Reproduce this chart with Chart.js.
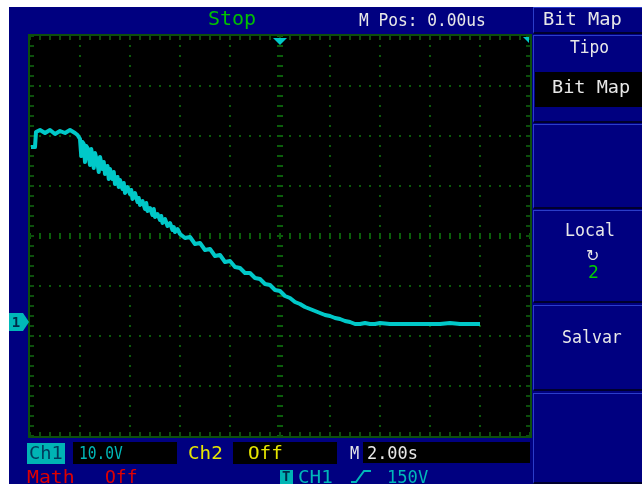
<!DOCTYPE html>
<html>
<head>
<meta charset="utf-8">
<script src="https://cdn.jsdelivr.net/npm/chart.js@4/dist/chart.umd.min.js"></script>
<style>
  html, body { margin: 0; padding: 0; width: 642px; height: 484px; overflow: hidden; background: #ffffff; }
  #scope { position: absolute; left: 9px; top: 7px; width: 633px; height: 477px; background: #000080; }
  #plot { position: absolute; left: 0; top: 0; z-index: 3; }
  .t { position: absolute; font-family: "DejaVu Sans Mono", monospace; font-size: 18px; line-height: 18px;
       white-space: pre; transform-origin: 0 0; z-index: 4; }
  .box { position: absolute; z-index: 2; }
  .pbox { position: absolute; left: 533px; width: 109px; box-sizing: border-box; background: #000080;
          border-top: 1px solid #2b3dc9; border-left: 1px solid #2b3dc9; border-bottom: 2px solid #00002e; z-index: 2; }
  .blk { position: absolute; background: #000000; z-index: 2; }
</style>
</head>
<body>
<div id="scope"></div>

<!-- right-hand menu -->
<div class="pbox" style="top:7px;height:27px;"></div>
<div class="pbox" style="top:35px;height:88px;"></div>
<div class="pbox" style="top:124px;height:85px;"></div>
<div class="pbox" style="top:210px;height:93px;"></div>
<div class="pbox" style="top:305px;height:86px;"></div>
<div class="pbox" style="top:393px;height:91px;"></div>
<div class="blk" style="left:535px;top:72px;width:107px;height:35px;"></div>

<!-- status bar boxes -->
<div class="box" style="left:27px;top:443px;width:38px;height:21px;background:#00b4b4;"></div>
<div class="blk" style="left:73px;top:442px;width:104px;height:22px;"></div>
<div class="blk" style="left:233px;top:442px;width:104px;height:22px;"></div>
<div class="blk" style="left:363px;top:442px;width:167px;height:21px;"></div>
<div class="box" style="left:280px;top:470px;width:13px;height:14px;background:#00b4b4;"></div>

<!-- header texts -->
<div class="t" style="left:208px;top:8px;font-size:20px;line-height:20px;color:#00c000;">Stop</div>
<div class="t" style="left:359px;top:11px;color:#e8e8e8;transform:scaleX(0.9);">M Pos: 0.00us</div>
<div class="t" style="left:543px;top:10px;color:#e8e8e8;transform:scaleX(1.04);">Bit Map</div>

<!-- menu texts -->
<div class="t" style="left:570px;top:38px;color:#e8e8e8;transform:scaleX(0.9);">Tipo</div>
<div class="t" style="left:552px;top:78px;color:#e8e8e8;transform:scaleX(1.03);">Bit Map</div>
<div class="t" style="left:565px;top:221px;color:#e8e8e8;transform:scaleX(0.92);">Local</div>
<div class="t" style="left:586px;top:247px;font-family:'DejaVu Sans';font-size:16px;line-height:18px;color:#e8e8e8;">↻</div>
<div class="t" style="left:588px;top:263px;color:#00d000;">2</div>
<div class="t" style="left:562px;top:328px;color:#e8e8e8;transform:scaleX(0.92);">Salvar</div>

<!-- status texts -->
<div class="t" style="left:29px;top:444px;color:#003a5c;transform:scaleX(1.04);">Ch1</div>
<div class="t" style="left:79px;top:444px;color:#00b8b8;transform:scaleX(0.81);">10.0V</div>
<div class="t" style="left:188px;top:444px;color:#e6e600;transform:scaleX(1.07);">Ch2</div>
<div class="t" style="left:248px;top:444px;color:#e6e600;transform:scaleX(1.07);">Off</div>
<div class="t" style="left:350px;top:444px;color:#e8e8e8;transform:scaleX(0.85);">M</div>
<div class="t" style="left:367px;top:444px;color:#e8e8e8;transform:scaleX(0.94);">2.00s</div>
<div class="t" style="left:27px;top:468px;color:#e00000;transform:scaleX(1.1);">Math</div>
<div class="t" style="left:105px;top:468px;color:#e00000;">Off</div>
<div class="t" style="left:282px;top:469px;font-size:14px;line-height:14px;font-weight:bold;color:#002a4a;">T</div>
<div class="t" style="left:298px;top:468px;color:#00b8b8;transform:scaleX(1.07);">CH1</div>
<svg style="position:absolute;left:350px;top:469px;z-index:4;" width="22" height="15">
  <polyline points="1,13 6,13 14,2 21,2" fill="none" stroke="#00b8b8" stroke-width="2"/>
</svg>
<div class="t" style="left:387px;top:468px;color:#00b8b8;transform:scaleX(0.95);">150V</div>

<canvas id="plot" width="642" height="484"></canvas>

<script>
// Channel 1 capture: time in seconds (trigger at 0), amplitude in volts
const times = [
  -9.96, -9.80, -9.76, -9.60, -9.40, -9.20, -9.00, -8.80, -8.60, -8.40, -8.20, -8.10,
  -8.00, -7.95, -7.90, -7.85, -7.80, -7.75, -7.70, -7.60, -7.55, -7.50, -7.45, -7.40,
  -7.30, -7.25, -7.20, -7.10, -7.05, -7.00, -6.90, -6.85, -6.80, -6.70, -6.65, -6.60,
  -6.50, -6.45, -6.40, -6.30, -6.25, -6.20, -6.10, -6.00, -5.95, -5.90, -5.80, -5.70,
  -5.65, -5.60, -5.50, -5.40, -5.35, -5.30, -5.20, -5.10, -5.05, -5.00, -4.90, -4.80,
  -4.75, -4.70, -4.60, -4.50, -4.40, -4.30, -4.25, -4.20, -4.10, -4.00,
  -3.80, -3.60, -3.40, -3.20, -3.00, -2.80, -2.60, -2.40, -2.20, -2.00,
  -1.80, -1.60, -1.40, -1.20, -1.00, -0.80, -0.60, -0.40, -0.20, 0.00,
  0.20, 0.40, 0.60, 0.80, 1.00, 1.20, 1.40, 1.60, 1.80, 2.00,
  2.20, 2.40, 2.60, 2.80, 3.00, 3.20, 3.40, 3.60, 3.80, 4.00,
  4.40, 4.80, 5.20, 5.60, 6.00, 6.40, 6.80, 7.20, 7.60, 8.00
];
const ch1Volts = [
  35.0, 35.0, 38.0, 38.4, 37.8, 38.4, 37.6, 38.2, 37.8, 38.4, 37.8, 37.4,
  36.6, 33.2, 36.0, 35.6, 32.0, 35.2, 34.8, 31.4, 34.6, 33.0, 30.8, 33.8,
  31.8, 30.0, 33.0, 30.6, 32.0, 29.6, 31.2, 28.6, 30.6, 28.6, 30.0, 27.6,
  29.0, 27.0, 28.4, 26.6, 27.8, 25.8, 27.0, 25.6, 26.4, 24.6, 25.8, 24.0,
  24.8, 23.4, 24.2, 22.6, 23.8, 22.2, 22.8, 21.4, 22.6, 21.0, 21.6, 20.4,
  21.2, 19.8, 20.6, 19.2, 19.8, 18.4, 19.0, 18.0, 18.6, 17.6,
  16.8, 17.0, 15.6, 15.8, 14.4, 14.6, 13.2, 13.4, 12.0, 12.2,
  11.0, 10.8, 9.8, 9.8, 8.8, 8.6, 7.6, 7.4, 6.4, 6.2,
  5.2, 4.8, 4.0, 3.6, 3.0, 2.6, 2.2, 1.8, 1.4, 1.2,
  0.8, 0.6, 0.2, 0.0, -0.4, -0.4, -0.2, -0.4, -0.4, -0.2,
  -0.4, -0.4, -0.4, -0.4, -0.4, -0.4, -0.2, -0.4, -0.4, -0.4
];

// Graticule: 10 x 8 divisions, 5 minor marks per division
const H_DIVS = 10, V_DIVS = 8, MINOR = 5;
const SEC_PER_DIV = 2.0;      // M 2.00s
const VOLT_PER_DIV = 10.0;    // Ch1 10.0V
const CH1_OFFSET_DIVS = 2.28; // ground marker height above the bottom edge, in divisions
const X_MIN = -H_DIVS / 2 * SEC_PER_DIV, X_MAX = H_DIVS / 2 * SEC_PER_DIV;
const Y_MIN = -CH1_OFFSET_DIVS * VOLT_PER_DIV, Y_MAX = Y_MIN + V_DIVS * VOLT_PER_DIV;

const GRID_DOT = '#0a5e0a', GRID_EDGE = '#0c4f0c', TRACE = '#00c8c8';

const graticule = {
  id: 'graticule',
  beforeDatasetsDraw(chart) {
    const { ctx, chartArea: a, scales: { x, y } } = chart;
    ctx.save();
    ctx.fillStyle = '#000000';
    ctx.fillRect(a.left, a.top, a.right - a.left, a.bottom - a.top);

    const xs = [], ys = [], xm = [], ym = [];
    for (let i = 0; i <= H_DIVS; i++) xs.push(Math.round(x.getPixelForValue(X_MIN + i * SEC_PER_DIV)));
    for (let j = 0; j <= V_DIVS; j++) ys.push(Math.round(y.getPixelForValue(Y_MIN + j * VOLT_PER_DIV)));
    for (let i = 0; i <= H_DIVS * MINOR; i++) xm.push(Math.round(x.getPixelForValue(X_MIN + i * SEC_PER_DIV / MINOR)));
    for (let j = 0; j <= V_DIVS * MINOR; j++) ym.push(Math.round(y.getPixelForValue(Y_MIN + j * VOLT_PER_DIV / MINOR)));
    const cx = xs[H_DIVS / 2];
    const cy = ys[V_DIVS / 2];

    // dotted division lines
    ctx.fillStyle = GRID_DOT;
    xs.slice(1, -1).forEach(px => {
      if (px === cx) return;
      ym.forEach(py => ctx.fillRect(px - 1, py - 1, 2, 2));
    });
    ys.slice(1, -1).forEach(py => {
      if (py === cy) return;
      xm.forEach(px => ctx.fillRect(px - 1, py - 1, 2, 2));
    });
    // centre axes with minor ticks
    ym.forEach(py => ctx.fillRect(cx - 3, py - 1, 6, 2));
    xm.forEach(px => ctx.fillRect(px - 1, cy - 3, 2, 6));

    // border with inward ticks
    ctx.fillStyle = GRID_EDGE;
    xm.forEach(px => {
      ctx.fillRect(px - 1, a.top, 2, 4);
      ctx.fillRect(px - 1, a.bottom - 4, 2, 4);
    });
    ym.forEach(py => {
      ctx.fillRect(a.left, py - 1, 4, 2);
      ctx.fillRect(a.right - 4, py - 1, 4, 2);
    });
    ctx.strokeStyle = GRID_EDGE;
    ctx.lineWidth = 2;
    ctx.strokeRect(a.left - 1, a.top - 1, a.right - a.left + 2, a.bottom - a.top + 2);
    ctx.restore();
  },
  afterDraw(chart) {
    const { ctx, chartArea: a, scales: { x, y } } = chart;
    ctx.save();
    ctx.fillStyle = TRACE;
    // trigger position marker
    const tx = x.getPixelForValue(0);
    ctx.beginPath();
    ctx.moveTo(tx - 7, a.top + 2);
    ctx.lineTo(tx + 7, a.top + 2);
    ctx.lineTo(tx, a.top + 9);
    ctx.closePath();
    ctx.fill();
    // corner marker
    ctx.beginPath();
    ctx.moveTo(a.right - 7, a.top + 1);
    ctx.lineTo(a.right - 1, a.top + 1);
    ctx.lineTo(a.right - 1, a.top + 7);
    ctx.closePath();
    ctx.fill();
    // channel 1 ground reference marker
    const gy = y.getPixelForValue(0);
    ctx.fillStyle = '#00b8b8';
    ctx.beginPath();
    ctx.moveTo(9, gy - 9);
    ctx.lineTo(23, gy - 9);
    ctx.lineTo(29, gy);
    ctx.lineTo(23, gy + 9);
    ctx.lineTo(9, gy + 9);
    ctx.closePath();
    ctx.fill();
    ctx.fillStyle = '#002a4a';
    ctx.font = 'bold 14px "DejaVu Sans Mono"';
    ctx.textAlign = 'center';
    ctx.textBaseline = 'middle';
    ctx.fillText('1', 16, gy + 1);
    ctx.restore();
  }
};

new Chart(document.getElementById('plot').getContext('2d'), {
  type: 'line',
  data: {
    datasets: [{
      label: 'CH1',
      data: times.map((t, i) => ({ x: t, y: ch1Volts[i] })),
      borderColor: TRACE,
      borderWidth: 4,
      borderJoinStyle: 'round',
      pointRadius: 0,
      tension: 0,
      fill: false
    }]
  },
  options: {
    responsive: false,
    animation: false,
    events: [],
    layout: { padding: { left: 30, top: 36, right: 112, bottom: 48 } },
    plugins: { legend: { display: false }, tooltip: { enabled: false } },
    scales: {
      x: { type: 'linear', min: X_MIN, max: X_MAX, display: false },
      y: { type: 'linear', min: Y_MIN, max: Y_MAX, display: false }
    }
  },
  plugins: [graticule]
});
</script>
</body>
</html>
